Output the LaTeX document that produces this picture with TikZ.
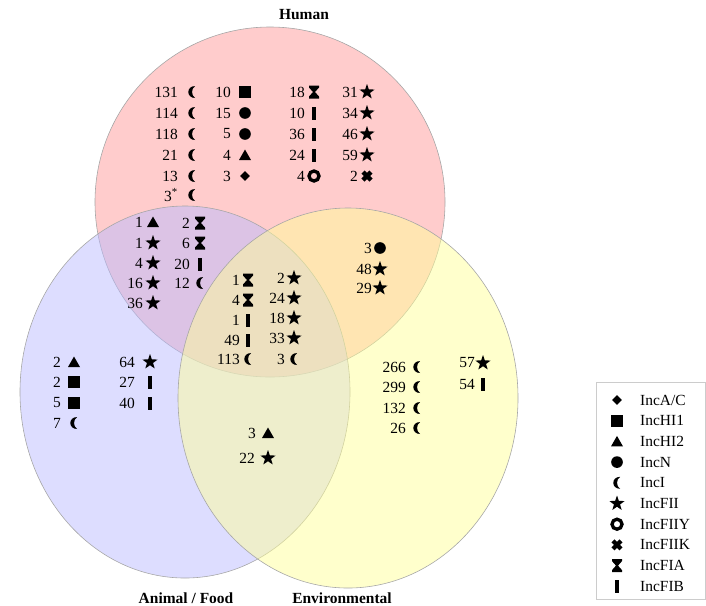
\documentclass[tikz,border=0pt]{standalone}
\usepackage{fontspec}
\setmainfont{Liberation Serif}
\usetikzlibrary{shapes.geometric}

\definecolor{hum}{RGB}{255,153,153}
\definecolor{ani}{RGB}{187,187,255}
\definecolor{env}{RGB}{255,255,153}

% replicon symbols, drawn in pixel units
\tikzset{
    diam/.pic={\fill (0,-4.8) -- (4.8,0) -- (0,4.8) -- (-4.8,0) -- cycle;},
    sq/.pic={\fill (-5.8,-5.8) rectangle (5.8,5.8);},
    tri/.pic={\fill (0,-5.5) -- (6,5) -- (-6,5) -- cycle;},
    dot/.pic={\fill (0,0) circle (0.175cm);},
    moon/.pic={\fill (3.2,-6) .. controls (-6,-6) and (-6,6) .. (3.2,6) .. controls (-1,3.8) and (-1,-3.8) .. (3.2,-6) -- cycle;},
    fstar/.pic={\node[star, star points=5, star point ratio=2.5, fill, inner sep=0pt, minimum size=0.48cm] {};},
    ring/.pic={\draw[line width=0.1cm] (0,0) circle (0.15cm);},
    crs/.pic={\draw[line width=0.13cm] (-4,-4) -- (4,4) (-4,4) -- (4,-4);},
    hglass/.pic={\fill (-5,-6.5) -- (5,-6.5) -- (5,-4.5) -- (1,0) -- (5,4.5) -- (5,6.5) -- (-5,6.5) -- (-5,4.5) -- (-1,0) -- (-5,-4.5) -- cycle;},
    bar/.pic={\fill (-2.4,-6.5) rectangle (2.4,6.5);}
}

\begin{document}
\begin{tikzpicture}[
    x=0.03cm, y=-0.03cm,
    font=\fontsize{13.2}{15}\selectfont,
    set/.style={ellipse, inner sep=0pt, draw=gray!70, line width=0.5pt, fill opacity=0.5},
    num/.style={anchor=east, inner sep=0pt},
    title/.style={font=\fontsize{13.2}{15}\selectfont\bfseries, inner sep=0pt},
    leg/.style={anchor=west, inner sep=0pt}
]
    \useasboundingbox (0,0) rectangle (706,605);

    % the three sets
    \node[set, fill=hum, minimum width=10.5cm, minimum height=10.5cm] (human) at (270,202) {};
    \node[set, fill=ani, minimum width=9.9cm, minimum height=11.16cm] (animal) at (185,392) {};
    \node[set, fill=env, minimum width=10.2cm, minimum height=11.4cm] (environ) at (348,398) {};

    \node[title] (thum) at (304,15) {Human};
    \node[title] (tani) at (186,598) {Animal / Food};
    \node[title] (tenv) at (342,598) {Environmental};

    % Human only
    \foreach \n/\y [count=\i] in {131/92, 114/113, 118/134, 21/155, 13/176, 3\textsuperscript{*}/195} {
        \node[num] (ha-\i) at (178,\y) {\n};
        \pic at (192,\y) {moon};
    }
    \foreach \n/\s/\y [count=\i] in {10/sq/92, 15/dot/113, 5/dot/134, 4/tri/155, 3/diam/176} {
        \node[num] (hb-\i) at (231,\y) {\n};
        \pic at (245,\y) {\s};
    }
    \foreach \n/\s/\y [count=\i] in {18/hglass/92, 10/bar/113, 36/bar/134, 24/bar/155, 4/ring/176} {
        \node[num] (hc-\i) at (305,\y) {\n};
        \pic at (314,\y) {\s};
    }
    \foreach \n/\s/\y [count=\i] in {31/fstar/92, 34/fstar/113, 46/fstar/134, 59/fstar/155, 2/crs/176} {
        \node[num] (hd-\i) at (358,\y) {\n};
        \pic at (367,\y) {\s};
    }

    % Human and Animal / Food
    \foreach \n/\s/\y [count=\i] in {1/tri/222, 1/fstar/243, 4/fstar/263, 16/fstar/283, 36/fstar/303} {
        \node[num] (ha2-\i) at (143,\y) {\n};
        \pic at (153,\y) {\s};
    }
    \foreach \n/\s/\y [count=\i] in {2/hglass/223, 6/hglass/243, 20/bar/264, 12/moon/283} {
        \node[num] (hb2-\i) at (190,\y) {\n};
        \pic at (200,\y) {\s};
    }

    % all three
    \foreach \n/\s/\y [count=\i] in {1/hglass/280, 4/hglass/300, 1/bar/320, 49/bar/340, 113/moon/359} {
        \node[num] (ta-\i) at (240,\y) {\n};
        \pic at (248,\y) {\s};
    }
    \foreach \n/\s/\y [count=\i] in {2/fstar/278, 24/fstar/298, 18/fstar/318, 33/fstar/338, 3/moon/359} {
        \node[num] (tb-\i) at (285,\y) {\n};
        \pic at (294,\y) {\s};
    }

    % Human and Environmental
    \foreach \n/\s/\y [count=\i] in {3/dot/248, 48/fstar/269, 29/fstar/288} {
        \node[num] (he-\i) at (372,\y) {\n};
        \pic at (380,\y) {\s};
    }

    % Animal / Food only
    \foreach \n/\s/\y [count=\i] in {2/tri/362, 2/sq/382, 5/sq/403, 7/moon/423} {
        \node[num] (aa-\i) at (61,\y) {\n};
        \pic at (74,\y) {\s};
    }
    \foreach \n/\s/\y [count=\i] in {64/fstar/362, 27/bar/382, 40/bar/403} {
        \node[num] (ab-\i) at (135,\y) {\n};
        \pic at (150,\y) {\s};
    }

    % Animal / Food and Environmental
    \node[num] (ae-1) at (256,433) {3};
    \pic at (268,433) {tri};
    \node[num] (ae-2) at (255,458) {22};
    \pic at (268,458) {fstar};

    % Environmental only
    \foreach \n/\y [count=\i] in {266/367, 299/387, 132/408, 26/428} {
        \node[num] (ea-\i) at (406,\y) {\n};
        \pic at (417,\y) {moon};
    }
    \node[num] (eb-1) at (475,363) {57};
    \pic at (483,363) {fstar};
    \node[num] (eb-2) at (475,384) {54};
    \pic at (483,384) {bar};

    % legend
    \draw[gray!40, line width=0.6pt] (596,382) rectangle (705.5,599.5);
    \foreach \s/\t [count=\i] in {diam/{IncA/C}, sq/IncHI1, tri/IncHI2, dot/IncN, moon/IncI, fstar/IncFII, ring/IncFIIY, crs/IncFIIK, hglass/IncFIA, bar/IncFIB} {
        \pic at (617,{400+20.7*(\i-1)}) {\s};
        \node[leg] (leg-\i) at (640,{400+20.7*(\i-1)}) {\t};
    }
\end{tikzpicture}
\end{document}
